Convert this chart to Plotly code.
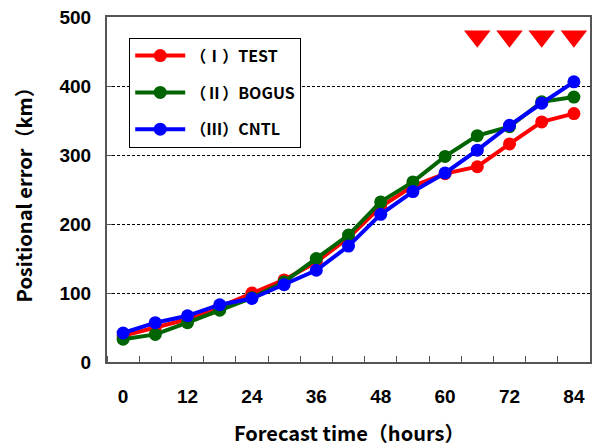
import plotly.graph_objects as go

hours = [0, 6, 12, 18, 24, 30, 36, 42, 48, 54, 60, 66, 72, 78, 84]
test = [38, 50, 62, 80, 100, 119, 145, 180, 225, 255, 273, 283, 316, 348, 360]
bogus = [33, 40, 57, 75, 93, 116, 150, 184, 232, 261, 298, 328, 341, 377, 384]
cntl = [42, 57, 67, 83, 92, 112, 133, 168, 214, 247, 274, 307, 343, 375, 406]
names = ["（Ⅰ）TEST", "（Ⅱ）BOGUS", "（Ⅲ）CNTL"]
colors = ["#ff0000", "#006400", "#0000ff"]
signif_hours = [66, 72, 78, 84]
x_ticks = [0, 12, 24, 36, 48, 60, 72, 84]
y_ticks = [0, 100, 200, 300, 400, 500]
x_title = "Forecast time（hours）"
y_title = "Positional error（km）"

CJK = "Noto Sans CJK JP"
fig = go.Figure()
for i, (nm, col, ys) in enumerate(zip(names, colors, [test, bogus, cntl])):
    fig.add_trace(go.Scatter(
        x=hours, y=ys, name=nm, mode="lines+markers", legendgroup=str(i),
        line=dict(color=col, width=4),
        marker=dict(color=col, size=13),
        cliponaxis=False,
    ))

fig.add_trace(go.Scatter(
    x=signif_hours, y=[472] * len(signif_hours), mode="markers", showlegend=False,
    marker=dict(symbol="triangle-down", color="#ff0000", size=23, line=dict(width=0)),
    cliponaxis=False,
))

fig.update_layout(
    width=595, height=448,
    margin=dict(l=107, r=5, t=17, b=86, autoexpand=False),
    paper_bgcolor="white", plot_bgcolor="white",
    showlegend=True,
    legend=dict(
        x=0.046, y=0.94, xanchor="left", yanchor="top",
        bgcolor="white", bordercolor="black", borderwidth=1,
        font=dict(family=CJK, size=16, color="black", weight="bold"),
        tracegroupgap=13, itemwidth=50,
    ),
    xaxis=dict(
        range=[-3, 87], tickvals=x_ticks, ticktext=[str(v) for v in x_ticks],
        ticks="", showgrid=False, zeroline=False, automargin=False,
        showline=True, linecolor="#555555", linewidth=2, mirror=True,
        ticklabelstandoff=16,
        tickfont=dict(family="Liberation Sans", size=19, color="black", weight="bold"),
        minor=dict(tick0=3, dtick=6, ticks="inside", ticklen=6, tickcolor="#555555", tickwidth=1, showgrid=False),
    ),
    yaxis=dict(
        range=[0, 500], tickvals=y_ticks, automargin=False,
        ticks="inside", ticklen=5, tickcolor="#555555",
        showgrid=True, gridcolor="black", griddash="3px,2px", gridwidth=1,
        zeroline=False, ticklabelstandoff=10,
        showline=True, linecolor="#555555", linewidth=2, mirror=True,
        tickfont=dict(family="Liberation Sans", size=19, color="black", weight="bold"),
    ),
    annotations=[
        dict(text=y_title, textangle=-90, x=-0.172, y=0.5, xref="paper", yref="paper",
             xanchor="center", yanchor="middle", showarrow=False,
             font=dict(family=CJK, size=20, color="black", weight="bold")),
        dict(text=x_title, x=0.5, y=-0.205, xref="paper", yref="paper",
             xanchor="center", yanchor="middle", showarrow=False,
             font=dict(family=CJK, size=20, color="black", weight="bold")),
    ],
)

fig.write_html("out.html", config={"displayModeBar": False},
               post_script="document.body.style.margin='0';")
